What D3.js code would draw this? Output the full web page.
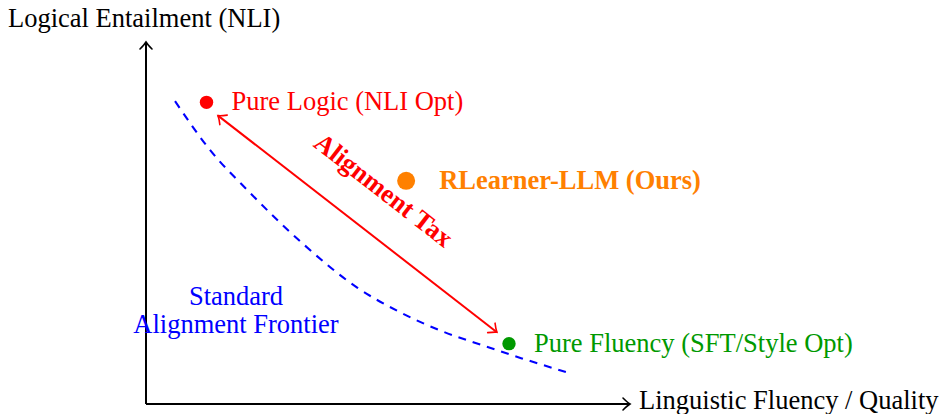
<!DOCTYPE html>
<html><head><meta charset="utf-8">
<script src="https://cdn.jsdelivr.net/npm/d3@7"></script>
<style>
html,body{margin:0;padding:0;background:#fff;}
</style></head>
<body><svg id="c" width="941" height="414" font-family="'Liberation Serif', 'Times New Roman', Times, 'DejaVu Serif', serif"></svg>
<script>
// ---- data (conceptual units) ----
const axisTitles = ["Linguistic Fluency / Quality", "Logical Entailment (NLI)"];
const pointNames = ["Pure Logic (NLI Opt)", "RLearner-LLM (Ours)", "Pure Fluency (SFT/Style Opt)"];
const pointX = [1.0, 4.3, 6.0];
const pointY = [5.0, 3.7, 1.0];
const pointColors = ["#ff0000", "#ff8000", "#009900"];
const frontierX = [0.48, 1.05, 1.72, 2.6, 3.49, 4.2, 4.86, 5.6, 6.2, 6.94];
const frontierY = [5.02, 4.22, 3.50, 2.65, 1.93, 1.52, 1.22, 0.96, 0.76, 0.53];
const frontierLabel = ["Standard", "Alignment Frontier"];
const taxFrom = [1.19, 4.78];
const taxTo = [5.8, 1.19];
const taxLabel = "Alignment Tax";

const FONT = "'Liberation Serif', 'Times New Roman', Times, 'DejaVu Serif', serif";
const svg = d3.select("#c");
const x = d3.scaleLinear().domain([0, 8]).range([146, 630]);
const y = d3.scaleLinear().domain([0, 6]).range([404, 42]);

const defs = svg.append("defs");
function marker(id, color, w) {
  defs.append("marker").attr("id", id).attr("markerUnits", "userSpaceOnUse")
    .attr("viewBox", "-10 -8 12 16").attr("refX", 0).attr("refY", 0)
    .attr("markerWidth", 12).attr("markerHeight", 16).attr("orient", "auto-start-reverse")
    .append("path").attr("d", "M-7,-6 Q-2.5,-1.5 0,0 Q-2.5,1.5 -7,6")
    .attr("fill", "none").attr("stroke", color).attr("stroke-width", w).attr("stroke-linecap", "round");
}
marker("ak", "#000", 1.6);
marker("ar", "#ff0000", 1.6);

// axes
const gx = svg.append("g").attr("transform", `translate(0,${y(0)})`)
  .call(d3.axisBottom(x).tickValues([]).tickSizeOuter(0));
gx.select(".domain").attr("stroke", "#000").attr("stroke-width", 2).attr("marker-end", "url(#ak)")
  .attr("d", `M${x(0)},0H${x(8)}`);
const gy = svg.append("g").attr("transform", `translate(${x(0)},0)`)
  .call(d3.axisLeft(y).tickValues([]).tickSizeOuter(0));
gy.select(".domain").attr("stroke", "#000").attr("stroke-width", 2).attr("marker-end", "url(#ak)")
  .attr("d", `M0,${y(0)}V${y(6)}`);

function txt(xp, yp, s, color, opts = {}) {
  return svg.append("text").attr("x", xp).attr("y", yp).attr("font-size", 26.5)
    .attr("font-family", FONT).attr("fill", color)
    .attr("font-weight", opts.bold ? "bold" : "normal")
    .attr("text-anchor", opts.anchor || "start").text(s);
}
txt(8, 27, axisTitles[1], "#000");
txt(639, 409, axisTitles[0], "#000");

// frontier
const fr = frontierX.map((v, i) => [v, frontierY[i]]);
svg.append("path").datum(fr)
  .attr("d", d3.line().x(d => x(d[0])).y(d => y(d[1])).curve(d3.curveMonotoneX))
  .attr("fill", "none").attr("stroke", "#0000ff").attr("stroke-width", 2.1).attr("stroke-dasharray", "8,7");
txt(236, 305, frontierLabel[0], "#0000ff", {anchor: "middle"});
txt(236, 333, frontierLabel[1], "#0000ff", {anchor: "middle"});

// tax arrow
svg.append("line").attr("x1", x(taxFrom[0])).attr("y1", y(taxFrom[1])).attr("x2", x(taxTo[0])).attr("y2", y(taxTo[1]))
  .attr("stroke", "#ff0000").attr("stroke-width", 2).attr("marker-start", "url(#ar)").attr("marker-end", "url(#ar)");
const mx = (x(taxFrom[0]) + x(taxTo[0])) / 2, my = (y(taxFrom[1]) + y(taxTo[1])) / 2;
const ang = Math.atan2(y(taxTo[1]) - y(taxFrom[1]), x(taxTo[0]) - x(taxFrom[0]));
const off = 34;
const tx = mx + Math.sin(ang) * off, ty = my - Math.cos(ang) * off;
txt(0, 0, taxLabel, "#ff0000", {bold: true, anchor: "middle"})
  .attr("transform", `translate(${tx},${ty}) rotate(${ang * 180 / Math.PI})`);

// points
const radii = [6.7, 9, 6.7];
const labelDx = [25, 33, 25];
pointX.forEach((v, i) => {
  svg.append("circle").attr("cx", x(v)).attr("cy", y(pointY[i])).attr("r", radii[i]).attr("fill", pointColors[i]);
  txt(x(v) + labelDx[i], y(pointY[i]) + 8, pointNames[i], pointColors[i], {bold: i === 1});
});
</script></body></html>
